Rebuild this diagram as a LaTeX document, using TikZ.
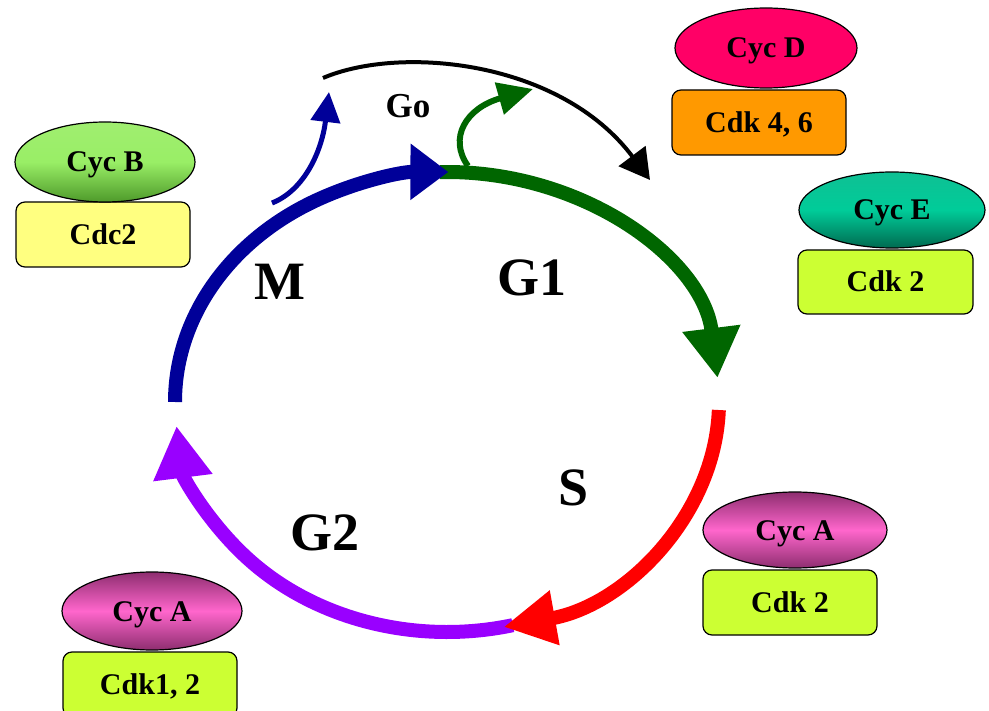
\documentclass[tikz,border=0pt]{standalone}
\usepackage{fontspec}
\setmainfont{Liberation Serif}
\usetikzlibrary{shapes.geometric,arrows.meta}
\definecolor{mblue}{HTML}{000099}
\definecolor{mgreen}{HTML}{006600}
\definecolor{mred}{HTML}{FF0000}
\definecolor{mpurple}{HTML}{9900FF}
\definecolor{cdcyellow}{HTML}{FFFF80}
\definecolor{cdklime}{HTML}{CCFF33}
\definecolor{cdkorange}{HTML}{FF9900}
\definecolor{cycdred}{HTML}{FF0066}
\definecolor{cycbtop}{HTML}{A0EE70}
\definecolor{cycbmid}{HTML}{99EE66}
\definecolor{cycbbot}{HTML}{4E9A2A}
\definecolor{cycetop}{HTML}{0FC094}
\definecolor{cycemid}{HTML}{00CC99}
\definecolor{cycebot}{HTML}{006A50}
\definecolor{cycaedge}{HTML}{8E2E70}
\definecolor{cycamid}{HTML}{FF66CC}
\begin{document}
\begin{tikzpicture}[x=1pt,y=-1pt,
  cycell/.style={ellipse, draw=black, line width=1.2pt, inner sep=0pt,
    font=\fontsize{30}{32}\selectfont\bfseries, text height=20pt, text depth=0pt},
  cdkbox/.style={rectangle, rounded corners=9pt, draw=black, line width=1.2pt,
    minimum width=174pt, minimum height=65pt, inner sep=0pt,
    font=\fontsize{30}{32}\selectfont\bfseries, text height=20pt, text depth=0pt},
  phaselab/.style={inner sep=0pt, font=\fontsize{54}{56}\selectfont\bfseries},
  phase/.style={line width=14pt},
  thinarrow/.style={line width=5pt}
]
\useasboundingbox (0,0) rectangle (989,711);
\clip (0,0) rectangle (989,711);

% complexes
\node[cdkbox, fill=cdcyellow] (cdc2) at (103,234.5) {Cdc2};
\node[cycell, minimum width=180pt, minimum height=80pt,
  top color=cycbtop, bottom color=cycbbot, middle color=cycbmid] (cycb) at (105,162) {Cyc B};

\node[cdkbox, fill=cdkorange] (cdk46) at (759,122.5) {Cdk 4, 6};
\node[cycell, minimum width=182pt, minimum height=80pt, fill=cycdred] (cycd) at (766,48) {Cyc D};

\node[cdkbox, fill=cdklime, minimum width=175pt, minimum height=64pt] (cdk2e) at (885.5,282) {Cdk 2};
\node[cycell, minimum width=186pt, minimum height=76pt,
  top color=cycetop, bottom color=cycebot, middle color=cycemid] (cyce) at (892,210) {Cyc E};

\node[cdkbox, fill=cdklime] (cdk2a) at (790,602.5) {Cdk 2};
\node[cycell, minimum width=184pt, minimum height=76pt,
  top color=cycaedge, bottom color=cycaedge, middle color=cycamid] (cycar) at (795,530) {Cyc A};

\node[cdkbox, fill=cdklime] (cdk12) at (150,684.5) {Cdk1, 2};
\node[cycell, minimum width=180pt, minimum height=78pt,
  top color=cycaedge, bottom color=cycaedge, middle color=cycamid] (cycal) at (152,611) {Cyc A};

% cycle
\coordinate (ctr) at (447,402);
\draw[phase, mpurple, -{Triangle[width=56pt,length=52pt]}]
  ([shift={(76:272 and 230)}]ctr) arc[start angle=76, end angle=174, x radius=272, y radius=230];
\draw[phase, mred, -{Triangle[width=52pt,length=52pt]}]
  ([shift={(2:272 and 230)}]ctr) arc[start angle=2, end angle=78, x radius=272, y radius=230];
\draw[phase, mgreen, -{Triangle[width=55pt,length=50pt]}]
  ([shift={(268.5:272 and 230)}]ctr) arc[start angle=268.5, end angle=354, x radius=272, y radius=230];
\draw[phase, mblue, -{Triangle[width=54pt,length=38pt]}]
  ([shift={(180:272 and 230)}]ctr) arc[start angle=180, end angle=270.3, x radius=272, y radius=230];

% exits to G0
\coordinate (mexit) at (272,203);
\coordinate (mexitend) at (329,92);
\draw[thinarrow, mblue, -{Triangle[width=29pt,length=30pt]}]
  (mexit) .. controls (305,190) and (322,150) .. (mexitend);

\coordinate (gexit) at (468,166);
\coordinate (gexitend) at (533,89);
\draw[line width=6pt, mgreen, -{Triangle[width=32pt,length=35pt]}]
  (gexit) .. controls (448,138) and (466,108) .. (gexitend);

\coordinate (gostart) at (323,78);
\coordinate (goend) at (650,180);
\draw[line width=4pt, black, -{Triangle[width=33pt,length=30pt]}]
  (gostart) .. controls (400,45) and (560,60) .. (goend);

% labels
\node[inner sep=0pt, font=\fontsize{35}{37}\selectfont\bfseries] (golab) at (408,106) {Go};
\node[phaselab] (mlab) at (280,282) {M};
\node[phaselab] (g1lab) at (532,278) {G1};
\node[phaselab] (slab) at (574,488) {S};
\node[phaselab] (g2lab) at (325,533) {G2};
\end{tikzpicture}
\end{document}
